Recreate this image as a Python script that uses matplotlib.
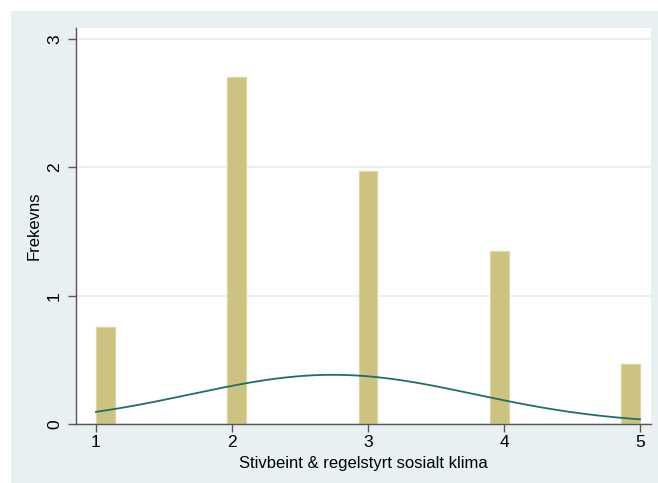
import numpy as np
import matplotlib
matplotlib.use("Agg")
import matplotlib.pyplot as plt
from matplotlib.patches import Rectangle

# Histogram of the scale (29 equal bins over 1..5), density scale
bin_start = [1.0, 1.9655, 2.9310, 3.8966, 4.8621]
density = [0.756, 2.705, 1.970, 1.346, 0.465]
bin_width = 4.0 / 29

x_ticks = [1, 2, 3, 4, 5]
y_ticks = [0, 1, 2, 3]

plt.rcParams["font.family"] = ["Liberation Sans", "DejaVu Sans"]

fig = plt.figure(figsize=(6.58, 4.83), dpi=100)
fig.patch.set_facecolor("white")
# graph region background
fig.add_artist(Rectangle((11 / 658, 0), 1 - 11 / 658, 1 - 11 / 483,
                         transform=fig.transFigure, facecolor="#e9f0f2",
                         edgecolor="none", zorder=0))

ax = fig.add_axes([76 / 658, 1 - 424 / 483, (651 - 76) / 658, (424 - 28) / 483])
ax.set_facecolor("white")

ax.bar(bin_start, density, width=bin_width, align="edge",
       color="#cbc37f", edgecolor="#dcd6a6", linewidth=0.9, zorder=2)

# normal density with the mean and SD of the binned data
centers = np.array(bin_start) + bin_width / 2
w = np.array(density) * bin_width
w = w / w.sum()
mu = np.sum(w * centers)
sd = np.sqrt(np.sum(w * (centers - mu) ** 2))
xs = np.linspace(1, 5, 300)
ys = np.exp(-0.5 * ((xs - mu) / sd) ** 2) / (sd * np.sqrt(2 * np.pi))
ax.plot(xs, ys, color="#1f6e6a", linewidth=1.3, zorder=3)

ax.set_xlim(1 - 20 / 136, 5 + 11 / 136)
ax.set_ylim(0, 3 + 11 / 128.3)
ax.set_xticks(x_ticks)
ax.set_yticks(y_ticks)
ax.set_yticklabels([str(t) for t in y_ticks], rotation=90, va="center")
ax.yaxis.grid(True, color="#e6eef0", linewidth=1.2, zorder=0)
ax.set_axisbelow(True)

for s in ["top", "right"]:
    ax.spines[s].set_visible(False)
for s in ["left", "bottom"]:
    ax.spines[s].set_color("#555555")
    ax.spines[s].set_linewidth(1.0)

ax.tick_params(axis="both", colors="#555555", length=6, width=1.0,
               labelsize=12.5, labelcolor="black")
ax.tick_params(axis="y", pad=4)
ax.tick_params(axis="x", pad=2)

ax.set_xlabel("Stivbeint & regelstyrt sosialt klima", fontsize=12, labelpad=4)
ax.set_ylabel("Frekevns", fontsize=12, labelpad=4)

fig.savefig("out.png", dpi=100, facecolor=fig.get_facecolor())
